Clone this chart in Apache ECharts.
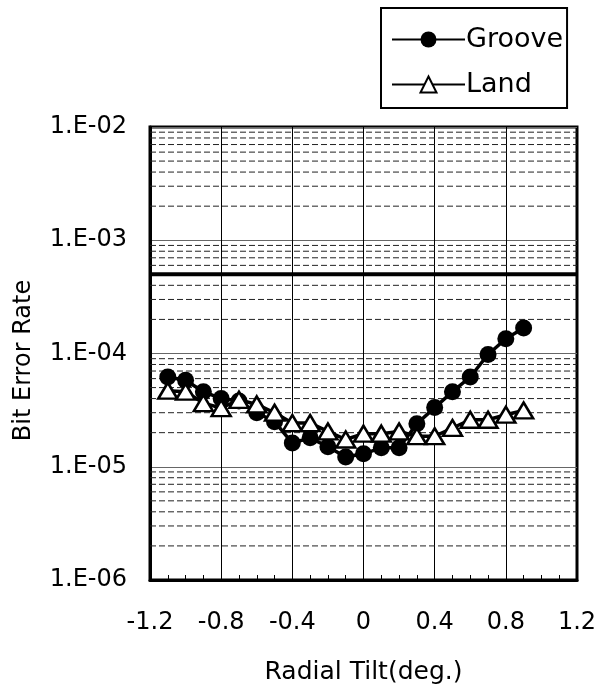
<!DOCTYPE html>
<html>
<head>
<meta charset="utf-8">
<script src="https://cdn.jsdelivr.net/npm/echarts@6/dist/echarts.min.js"></script>
<style>
  html, body { margin: 0; padding: 0; background: #fff; }
  #chart { width: 602px; height: 691px; }
</style>
</head>
<body>
<div id="chart"></div>
<script>
// Radial tilt (deg.) at which the bit error rate was measured
const tilt = [-1.1, -1.0, -0.9, -0.8, -0.7, -0.6, -0.5, -0.4, -0.3, -0.2, -0.1,
              0.0, 0.1, 0.2, 0.3, 0.4, 0.5, 0.6, 0.7, 0.8, 0.9];

// Bit error rate on groove tracks
const grooveBer = [6.2e-5, 5.8e-5, 4.6e-5, 4.0e-5, 3.8e-5, 3.0e-5, 2.5e-5, 1.62e-5, 1.8e-5, 1.5e-5, 1.22e-5,
                   1.3e-5, 1.47e-5, 1.47e-5, 2.4e-5, 3.33e-5, 4.6e-5, 6.2e-5, 9.8e-5, 1.35e-4, 1.68e-4];

// Bit error rate on land tracks
const landBer = [4.7e-5, 4.6e-5, 3.65e-5, 3.3e-5, 3.9e-5, 3.55e-5, 3.0e-5, 2.43e-5, 2.43e-5, 2.05e-5, 1.74e-5,
                 1.96e-5, 1.96e-5, 2.05e-5, 1.86e-5, 1.86e-5, 2.2e-5, 2.6e-5, 2.6e-5, 2.88e-5, 3.14e-5];

// Error rate limit drawn as a bold horizontal line
const berLimit = 5e-4;

// Axis ranges
const tiltMin = -1.2, tiltMax = 1.2, tiltStep = 0.4;
const berMin = 1e-6, berMax = 1e-2;

// Dashed minor gridlines at 2..9 x 10^n inside each decade
const minorLevels = [];
for (let e = -6; e < -2; e++) {
  for (let m = 2; m <= 9; m++) minorLevels.push(m * Math.pow(10, e));
}

const FONT = 'DejaVu Sans';

function fmtBer(v) {
  const e = Math.round(Math.log10(v));
  const abs = Math.abs(e);
  return '1.E' + (e < 0 ? '-' : '+') + (abs < 10 ? '0' + abs : '' + abs);
}

function fmtTilt(v) {
  const r = Math.round(v * 10) / 10;
  return r === 0 ? '0' : r.toFixed(1);
}

// A horizontal rule spanning the full tilt range at a given error rate
function hRule(level, style, z) {
  return {
    type: 'line',
    silent: true,
    symbol: 'none',
    z: z,
    legendHoverLink: false,
    tooltip: { show: false },
    data: [[tiltMin, level], [tiltMax, level]],
    lineStyle: style
  };
}

const guideSeries = minorLevels.map(v => hRule(v, { color: '#222', width: 1, type: [6, 3] }, 1));
const limitSeries = hRule(berLimit, { color: '#000', width: 4, type: 'solid' }, 2);

const chart = echarts.init(document.getElementById('chart'), null, { renderer: 'canvas' });

chart.setOption({
  backgroundColor: '#fff',
  animation: false,
  grid: {
    left: 150, right: 25, top: 127, bottom: 111,
    show: true, borderColor: '#000', borderWidth: 3, backgroundColor: 'transparent'
  },
  legend: {
    orient: 'vertical',
    left: 381, top: 8,
    padding: [18, 4, 10, 10],
    itemGap: 18,
    itemWidth: 73, itemHeight: 20,
    borderColor: '#000', borderWidth: 2,
    textStyle: { fontFamily: FONT, fontSize: 27, color: '#000', padding: [0, 0, 0, -4] },
    data: ['Groove', 'Land']
  },
  xAxis: {
    type: 'value',
    min: tiltMin, max: tiltMax, interval: tiltStep,
    name: 'Radial Tilt(deg.)',
    nameLocation: 'middle', nameGap: 80,
    nameTextStyle: { fontFamily: FONT, fontSize: 25, color: '#000' },
    axisLine: { show: true, onZero: false, lineStyle: { color: '#000', width: 3 } },
    axisTick: { show: true, inside: true, length: 5, lineStyle: { color: '#000', width: 1 } },
    minorTick: { show: true, splitNumber: 4, length: 5, lineStyle: { color: '#000', width: 1 } },
    axisLabel: { fontFamily: FONT, fontSize: 24, color: '#000', margin: 31, formatter: fmtTilt },
    splitLine: { show: true, lineStyle: { color: '#000', width: 1 } }
  },
  yAxis: {
    type: 'log', logBase: 10,
    min: berMin, max: berMax,
    name: 'Bit Error Rate',
    nameLocation: 'middle', nameGap: 114,
    nameTextStyle: { fontFamily: FONT, fontSize: 24, color: '#000', padding: [0, 14, 0, 0] },
    axisLine: { show: true, onZero: false, lineStyle: { color: '#000', width: 3 } },
    axisTick: { show: false },
    axisLabel: { fontFamily: FONT, fontSize: 24, color: '#000', margin: 23, formatter: fmtBer },
    splitLine: { show: true, lineStyle: { color: '#666', width: 1 } }
  },
  series: guideSeries.concat([
    limitSeries,
    {
      name: 'Groove',
      type: 'line',
      z: 3,
      data: tilt.map((t, i) => [t, grooveBer[i]]),
      symbol: 'circle',
      symbolSize: 17,
      lineStyle: { color: '#000', width: 3.5 },
      itemStyle: { color: '#000', borderColor: '#000', borderWidth: 0 }
    },
    {
      name: 'Land',
      type: 'line',
      z: 4,
      data: tilt.map((t, i) => [t, landBer[i]]),
      symbol: 'triangle',
      symbolSize: [19, 16],
      lineStyle: { color: '#000', width: 3.5 },
      itemStyle: { color: '#fff', borderColor: '#000', borderWidth: 2.5 }
    }
  ])
});
</script>
</body>
</html>
